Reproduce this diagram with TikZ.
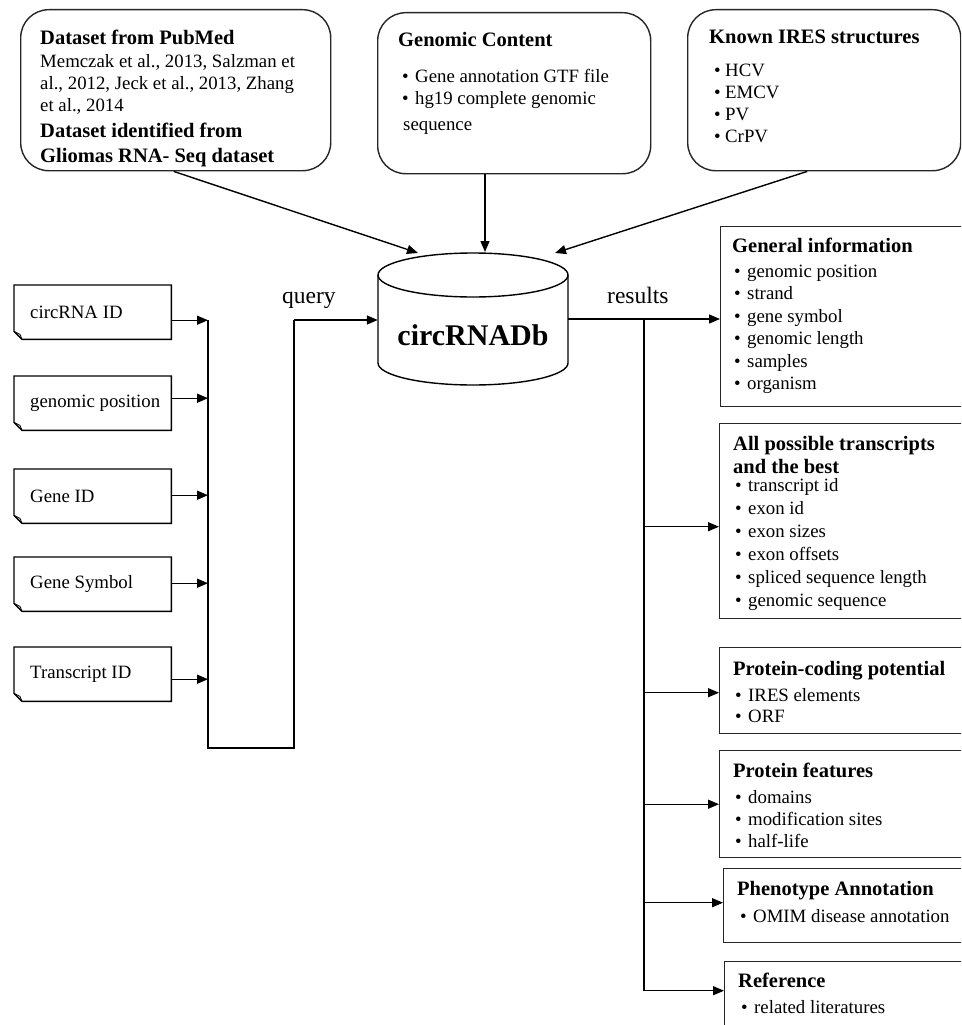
\documentclass[tikz,border=0pt]{standalone}
\usepackage{fontspec}
\setmainfont{Liberation Serif}
\usetikzlibrary{arrows.meta,calc}
\newcount\tlc
\newcommand\mkname{\global\advance\tlc by 1\relax\edef\tlname{t\the\tlc}}
\newcommand\TT[3]{\mkname\node[ttl] (\tlname) at (#1,#2) {#3};}
\newcommand\TB[3]{\mkname\node[bdy] (\tlname) at (#1,#2) {#3};}
\newcommand\TI[4][13]{\mkname\node[bdy] (\tlname) at (#2,#3) {\makebox[#1pt][l]{\textbullet}#4};}
\newcommand\notebox[3]{%
  \node[minimum width=157pt, minimum height=54pt, anchor=north west, inner sep=0pt] (#1) at (14,#2) {};
  \draw[ln] ($(#1.south west)+(0,-8)$) -- (#1.north west) -- (#1.north east) -- (#1.south east) -- ($(#1.south west)+(8,0)$) -- cycle;
  \draw[line width=0.8pt] ($(#1.south west)+(0,-8)$) -- ($(#1.south west)+(6,-5)$) -- ($(#1.south west)+(8,0)$);
  \node[bdy, anchor=west] (#1t) at ($(#1.west)+(16,0)$) {#3};
}
\tikzset{
  ttl/.style={anchor=base west, inner sep=0pt, font=\fontsize{20.5}{24}\selectfont\bfseries},
  bdy/.style={anchor=base west, inner sep=0pt, font=\fontsize{18.8}{22}\selectfont},
  lbl/.style={anchor=base west, inner sep=0pt, font=\fontsize{23.5}{26}\selectfont},
  rbox/.style={draw=black!85, line width=1.4pt, rounded corners=28pt, anchor=north west, inner sep=0pt},
  sbox/.style={draw=black!85, line width=1.4pt, anchor=north west, inner sep=0pt},
  ln/.style={draw=black, line width=1.4pt},
  arr/.style={draw=black, line width=1.4pt, -{Triangle[length=11pt,width=9pt]}},
}
\begin{document}
\begin{tikzpicture}[x=1pt,y=-1pt]
\useasboundingbox (0,0) rectangle (961,1025);
\clip (0,0) rectangle (961,1025);
\fill[white] (0,0) rectangle (961,1025);

% ---- top source boxes
\node[rbox, minimum width=310pt, minimum height=161pt] (s1) at (20,9) {};
\node[rbox, minimum width=273pt, minimum height=161pt] (s2) at (377,12) {};
\node[rbox, minimum width=273pt, minimum height=161pt] (s3) at (687,9) {};

\TT{40}{45}{Dataset from PubMed}
\TB{40}{67}{Memczak et al., 2013, Salzman et}
\TB{40}{89}{al., 2012, Jeck et al., 2013, Zhang}
\TB{40}{111}{et al., 2014}
\TT{40}{137}{Dataset identified from}
\TT{40}{162}{Gliomas RNA- Seq dataset}

\TT{398}{47}{Genomic Content}
\TI{402}{82}{Gene annotation GTF file}
\TI{402}{104}{hg19 complete genomic}
\TB{403}{130}{sequence}

\TT{709}{44}{Known IRES structures}
\TI[11]{714}{77}{HCV}
\TI[11]{714}{99}{EMCV}
\TI[11]{714}{120}{PV}
\TI[11]{714}{142}{CrPV}

% ---- database cylinder
\node[minimum width=190pt, minimum height=132pt, inner sep=0pt] (db) at (473,319) {};
\draw[ln] (378,275) -- (378,363) arc[start angle=180, end angle=360, x radius=95pt, y radius=22pt] -- (568,275);
\draw[ln] (473,275) ellipse [x radius=95pt, y radius=22pt];
\node[anchor=base, inner sep=0pt, font=\fontsize{30}{32}\selectfont\bfseries] (dbl) at (473,345) {circRNADb};

\coordinate (e1) at (418,253);
\coordinate (e2) at (485,252);
\coordinate (e3) at (555,253);
\draw[arr] ($(s1.south)+(-2,0)$) -- (e1);
\draw[arr] (s2.south -| e2) -- (e2);
\draw[arr] ($(s3.south)+(-17,0)$) -- (e3);

% ---- query boxes
\notebox{q1}{285}{circRNA ID}
\notebox{q2}{376}{genomic position}
\notebox{q3}{469}{Gene ID}
\notebox{q4}{557}{Gene Symbol}
\notebox{q5}{647}{Transcript ID}

\coordinate (busT) at (208,320);
\coordinate (busB) at (208,748);
\coordinate (qc) at (294,320);
\draw[arr] ($(q1.east)+(0,8)$) coordinate (a1) -- (a1 -| busT);
\draw[arr] ($(q2.east)+(0,-5)$) coordinate (a2) -- (a2 -| busT);
\draw[arr] ($(q3.east)+(0,-1)$) coordinate (a3) -- (a3 -| busT);
\draw[arr] ($(q4.east)+(0,-1)$) coordinate (a4) -- (a4 -| busT);
\draw[arr] ($(q5.east)+(0,5)$) coordinate (a5) -- (a5 -| busT);
\draw[ln] (busT) -- (busB) -| (qc);
\draw[arr] (qc) -- (db.west |- qc);
\node[lbl] (ql) at (282,303) {query};

% ---- result boxes
\node[sbox, minimum width=255pt, minimum height=180pt] (r1) at (720,226) {};
\node[sbox, minimum width=256pt, minimum height=195pt] (r2) at (719,423) {};
\node[sbox, minimum width=256pt, minimum height=86pt] (r3) at (719,647) {};
\node[sbox, minimum width=256pt, minimum height=107pt] (r4) at (719,750) {};
\node[sbox, minimum width=252pt, minimum height=74pt] (r5) at (723,868) {};
\node[sbox, minimum width=251pt, minimum height=80pt] (r6) at (724,961) {};

\TT{732}{252}{General information}
\TI{734}{277}{genomic position}
\TI{734}{299.5}{strand}
\TI{734}{322}{gene symbol}
\TI{734}{344.5}{genomic length}
\TI{734}{367}{samples}
\TI{734}{389.5}{organism}

\TT{733}{450}{All possible transcripts}
\TT{733}{473}{and the best}
\TI{735}{491}{transcript id}
\TI{735}{514}{exon id}
\TI{735}{537}{exon sizes}
\TI{735}{560}{exon offsets}
\TI{735}{583}{spliced sequence length}
\TI{735}{606}{genomic sequence}

\TT{733}{675}{Protein-coding potential}
\TI{735}{701}{IRES elements}
\TI{735}{722}{ORF}

\TT{733}{777}{Protein features}
\TI{735}{803}{domains}
\TI{735}{825}{modification sites}
\TI{735}{847}{half-life}

\TT{737}{895}{Phenotype Annotation}
\TI{740}{922}{OMIM disease annotation}

\TT{738}{987}{Reference}
\TI{741}{1013}{related literatures}

\coordinate (rbT) at (644,319);
\draw[arr] (db.east) -- (r1.west |- db.east);
\node[lbl] (rl) at (607,303) {results};
\draw[arr] ($(rbT |- r2.west)+(0,5.5)$) -- ($(r2.west)+(0,5.5)$);
\draw[arr] ($(rbT |- r3.west)+(0,2)$) -- ($(r3.west)+(0,2)$);
\draw[arr] (rbT |- r4.west) -- (r4.west);
\draw[arr] ($(rbT |- r5.west)+(0,-3)$) -- ($(r5.west)+(0,-3)$);
\draw[arr] (rbT) |- ($(r6.west)+(0,-11)$);
\end{tikzpicture}
\end{document}
